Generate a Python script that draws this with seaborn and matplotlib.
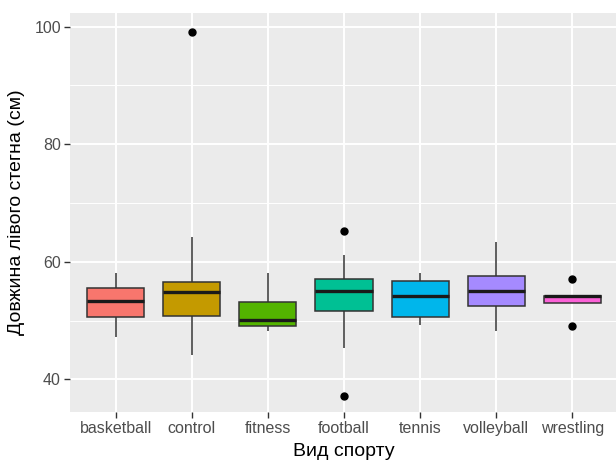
import matplotlib
matplotlib.use("Agg")
import matplotlib.pyplot as plt
from matplotlib.ticker import FixedLocator
import seaborn as sns
import pandas as pd

# Left thigh length (cm) by sport group
sports = ["basketball", "control", "fitness", "football", "tennis", "volleyball", "wrestling"]
basketball = [47.2, 50.6, 53.3, 55.5, 58.0]
control = [44.2, 48.0, 50.8, 53.0, 54.8, 55.5, 56.5, 64.2, 99.0]
fitness = [48.2, 49.1, 50.1, 53.1, 58.0]
football = [37.1, 45.3, 51.7, 53.5, 55.1, 56.0, 57.0, 61.1, 65.2]
tennis = [49.2, 50.6, 54.1, 56.7, 58.0]
volleyball = [48.2, 52.4, 55.1, 57.5, 63.3]
wrestling = [49.1, 52.9, 52.9, 53.5, 54.1, 54.2, 54.2, 54.2, 57.1]

colors = ["#F8766D", "#C49A00", "#53B400", "#00C094", "#00B6EB", "#A58AFF", "#FB61D7"]
y_ticks = [40, 60, 80, 100]

groups = [basketball, control, fitness, football, tennis, volleyball, wrestling]
df = pd.DataFrame({
    "sport": [s for s, g in zip(sports, groups) for _ in g],
    "value": [v for g in groups for v in g],
})

sns.set_theme(style="darkgrid", rc={
    "axes.facecolor": "#EBEBEB",
    "grid.color": "white",
    "axes.edgecolor": "#EBEBEB",
})
plt.rcParams["font.family"] = ["Liberation Sans", "DejaVu Sans"]

fig = plt.figure(figsize=(6.16, 4.62), dpi=100)
ax = fig.add_axes([70 / 616, 1 - 412 / 462, 548 / 616, (412 - 12.7) / 462])

sns.boxplot(
    data=df, x="sport", y="value", hue="sport", order=sports, hue_order=sports,
    palette=colors, width=0.75, gap=0, linecolor="#333333", linewidth=1.1,
    fliersize=5, legend=False, saturation=1, ax=ax,
    flierprops=dict(marker="o", markerfacecolor="black", markeredgecolor="black"),
    medianprops=dict(linewidth=2.4, color="#1a1a1a"),
    whiskerprops=dict(color="#333333"), capprops=dict(linewidth=0),
)

ax.set_xlim(-0.6, 6.6)
ax.set_ylim(34.44, 102.35)
ax.yaxis.set_major_locator(FixedLocator(y_ticks))
ax.yaxis.set_minor_locator(FixedLocator([50, 70, 90]))
ax.grid(True, which="major", color="white", linewidth=1.4)
ax.grid(True, which="minor", axis="y", color="white", linewidth=0.7)
ax.set_axisbelow(True)
for sp in ax.spines.values():
    sp.set_visible(False)

ax.tick_params(axis="both", which="major", length=4, width=1, color="#333333",
               labelsize=11.5, labelcolor="#4D4D4D", pad=2.5, bottom=True, left=True)
ax.tick_params(axis="y", which="minor", length=0)

ax.set_xlabel("Вид спорту", fontsize=14, color="black", labelpad=5)
ax.set_ylabel("Довжина лівого стегна (см)", fontsize=14, color="black", labelpad=7)

fig.savefig("out.png", dpi=100)
